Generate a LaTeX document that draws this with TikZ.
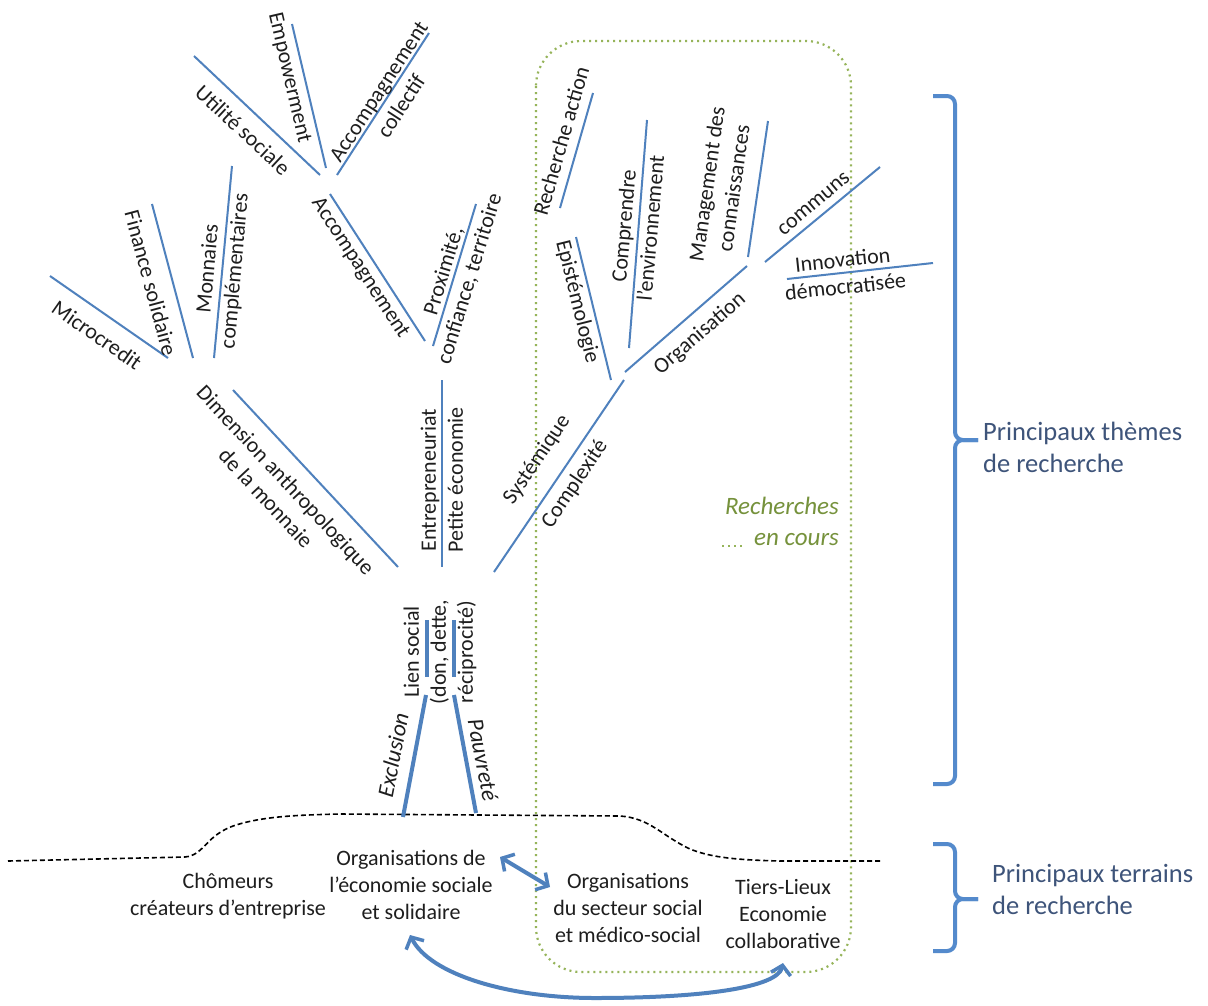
\documentclass[tikz,border=0pt]{standalone}
\usepackage{fontspec}
\setmainfont{Carlito}
\usetikzlibrary{arrows.meta}
\definecolor{tb}{RGB}{79,129,189}
\definecolor{brc}{RGB}{84,138,204}
\definecolor{dgreen}{RGB}{150,180,90}
\definecolor{tgreen}{RGB}{118,146,60}
\definecolor{slate}{RGB}{62,84,122}
\definecolor{txt}{RGB}{30,30,30}
\begin{document}
\begin{tikzpicture}[x=1pt,y=-1pt,
  branch/.style={tb, line width=2pt},
  trunkline/.style={tb, line width=4pt},
  lbl/.style={font=\fontsize{22}{27}\selectfont, align=center, inner sep=0pt, text=txt},
  ilbl/.style={font=\fontsize{23}{28}\selectfont\itshape, inner sep=0pt, text=txt},
  blbl/.style={font=\fontsize{26.5}{32}\selectfont, align=left, inner sep=0pt, text=slate, anchor=west},
  glbl/.style={font=\fontsize{25}{31}\selectfont\itshape, align=right, inner sep=0pt, text=tgreen, anchor=east},
  bigarrow/.style={tb, line width=4pt, {Straight Barb[length=9pt,width=20pt,line width=3.5pt]}-{Straight Barb[length=9pt,width=20pt,line width=3.5pt]}},
  ground/.style={black, line width=1.6pt, dash pattern=on 5pt off 3pt},
  dotbox/.style={dgreen, line width=2.2pt, line cap=butt, dash pattern=on 2pt off 4pt},
  bracket/.style={brc, line width=4pt, rounded corners=8pt}
]
\path[use as bounding box, fill=white] (0,0) rectangle (1208,1005);

% research-in-progress frame
\draw[dotbox, rounded corners=45pt] (536,41) rectangle (851,972);
\coordinate (gd1) at (722,546); \coordinate (gd2) at (745,546);
\draw[dotbox] (gd1) -- (gd2);
\node[glbl] (rc) at (839,521) {Recherches\\en cours};

% ground line
\coordinate (g0) at (8,861);
\coordinate (g1) at (880,861);
\draw[ground] (g0) -- (185,857) .. controls (205,855) and (205,835) .. (236,825)
  .. controls (265,816) and (300,815) .. (340,814) -- (620,816)
  .. controls (650,818) and (662,836) .. (690,849)
  .. controls (712,858) and (740,860) .. (780,861) -- (g1);

% coordinates of branches
\coordinate (us1) at (194,56);  \coordinate (us2) at (320,175);
\coordinate (em1) at (292,24);  \coordinate (em2) at (326,168);
\coordinate (ac1) at (429,33);  \coordinate (ac2) at (337,175);
\coordinate (mi1) at (50,276);  \coordinate (mi2) at (168,358);
\coordinate (fi1) at (152,204); \coordinate (fi2) at (193,358);
\coordinate (mo1) at (232,166); \coordinate (mo2) at (214,358);
\coordinate (acc1) at (330,194); \coordinate (acc2) at (425,341);
\coordinate (px1) at (476,204); \coordinate (px2) at (433,346);
\coordinate (di1) at (233,390); \coordinate (di2) at (398,567);
\coordinate (en1) at (442,380); \coordinate (en2) at (442,567);
\coordinate (sy1) at (624,380); \coordinate (sy2) at (494,572);
\coordinate (ep1) at (576,237); \coordinate (ep2) at (611,380);
\coordinate (or1) at (625,372); \coordinate (or2) at (747,266);
\coordinate (co1) at (647,120); \coordinate (co2) at (629,348);
\coordinate (ra1) at (593,93);  \coordinate (ra2) at (560,208);
\coordinate (ma1) at (768,121); \coordinate (ma2) at (748,257);
\coordinate (cm1) at (765,262); \coordinate (cm2) at (880,167);
\coordinate (in1) at (787,279); \coordinate (in2) at (933,263);
\coordinate (t1a) at (427,620); \coordinate (t1b) at (427,677);
\coordinate (t2a) at (454,620); \coordinate (t2b) at (454,677);
\coordinate (ex1) at (426,695); \coordinate (ex2) at (403,817);
\coordinate (pa1) at (454,695); \coordinate (pa2) at (476,813);

\foreach \b in {us,em,ac,mi,fi,mo,acc,px,di,en,sy,ep,or,co,ra,ma,cm,in}
  \draw[branch] (\b1) -- (\b2);
\foreach \b in {t1,t2}
  \draw[trunkline] (\b a) -- (\b b);
\draw[trunkline] (ex1) -- (ex2);
\draw[trunkline] (pa1) -- (pa2);

% labels
\node[lbl, rotate=-43] (Lus) at (243,130) {Utilité sociale};
\node[lbl, rotate=-77] (Lem) at (289,78) {Empowerment};
\node[lbl, rotate=57] (Lac) at (390,99) {Accompagnement\\collectif};
\node[lbl, rotate=-35] (Lmi) at (97,335) {Microcredit};
\node[lbl, rotate=-75] (Lfi) at (151,283) {Finance solidaire};
\node[lbl, rotate=85] (Lmo) at (222,270) {Monnaies\\complémentaires};
\node[lbl, rotate=-57] (Lacc) at (360,268) {Accompagnement};
\node[lbl, rotate=73] (Lpx) at (457,275) {Proximité,\\confiance, territoire};
\node[lbl, rotate=-47] (Ldi) at (276,489) {Dimension anthropologique\\de la monnaie};
\node[lbl, rotate=90] (Len) at (442,480) {Entrepreneuriat\\Petite économie};
\node[lbl, rotate=56] (Lsy) at (537,460) {Systémique};
\node[lbl, rotate=56] (Lcx) at (575,484) {Complexité};
\node[lbl, rotate=-76] (Lep) at (577,302) {Epistémologie};
\node[lbl, rotate=74] (Lra) at (561,141) {Recherche action};
\node[lbl, rotate=85] (Lco) at (637,227) {Comprendre\\l’environnement};
\node[lbl, rotate=82] (Lma) at (720,186) {Management des\\connaissances};
\node[lbl, rotate=41] (Lor) at (700,334) {Organisation};
\node[lbl, rotate=40] (Lcm) at (814,204) {communs};
\node[lbl, rotate=6] (Lin) at (844,273) {Innovation\\démocratisée};
\node[lbl, rotate=90] (Lli) at (440,652) {Lien social\\(don, dette,\\réciprocité)};
\node[ilbl, rotate=79] (Lex) at (393,755) {Exclusion};
\node[ilbl, rotate=-79] (Lpa) at (483,760) {Pauvreté};

% fields
\node[lbl] (cho) at (228,896) {Chômeurs\\créateurs d’entreprise};
\node[lbl] (ess) at (411,885) {Organisations de\\l’économie sociale\\et solidaire};
\node[lbl] (sms) at (628,908) {Organisations\\du secteur social\\et médico-social};
\node[lbl] (tl) at (783,914) {Tiers-Lieux\\Economie\\collaborative};

\coordinate (da1) at (500,857); \coordinate (da2) at (550,887);
\draw[bigarrow] (da1) -- (da2);
\coordinate (ba1) at (410,935); \coordinate (ba2) at (783,963);
\draw[bigarrow] (ba1) .. controls (430,975) and (510,998) .. (595,998)
  .. controls (700,998) and (778,988) .. (ba2);

% brackets
\draw[bracket] (933,96) -| (955,440) -- (978,440);
\draw[bracket] (978,440) -- (955,440) |- (933,784);
\draw[bracket] (933,844) -| (955,899) -- (978,899);
\draw[bracket] (978,899) -- (955,899) |- (933,951);
\node[blbl] (th) at (983,447) {Principaux thèmes\\de recherche};
\node[blbl] (tr) at (992,889) {Principaux terrains\\de recherche};
\end{tikzpicture}
\end{document}
